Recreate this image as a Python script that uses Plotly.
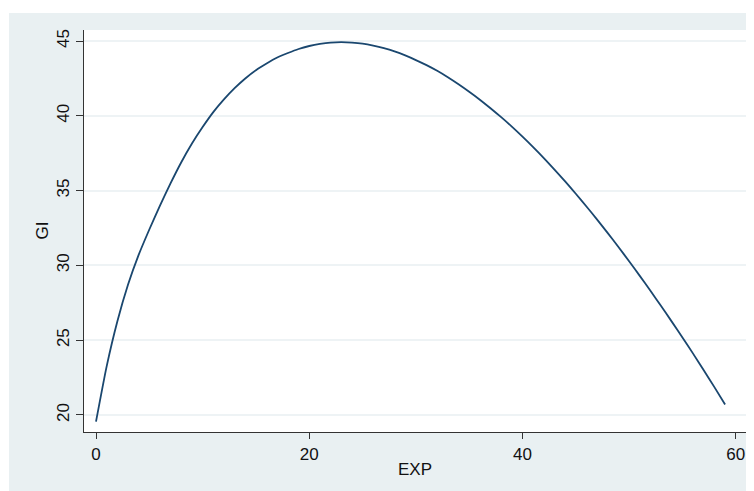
import plotly.graph_objects as go

exp_years = list(range(0, 60))
gi_values = [
    19.55, 23.25, 26.25, 28.7, 30.7, 32.4, 34.0, 35.5, 36.9, 38.15,
    39.25, 40.25, 41.1, 41.85, 42.5, 43.05, 43.5, 43.9, 44.2, 44.47,
    44.67, 44.81, 44.9, 44.93, 44.9, 44.83, 44.7, 44.53, 44.31, 44.04,
    43.73, 43.39, 43.01, 42.58, 42.11, 41.61, 41.08, 40.51, 39.91, 39.28,
    38.61, 37.91, 37.18, 36.41, 35.62, 34.79, 33.94, 33.06, 32.16, 31.23,
    30.28, 29.3, 28.3, 27.28, 26.24, 25.18, 24.1, 22.99, 21.86, 20.7,
]
x_ticks = [0, 20, 40, 60]
y_ticks = [20, 25, 30, 35, 40, 45]
x_title = "EXP"
y_title = "GI"

BG = "#e9f0f2"
LINE = "#1a476f"
GRID = "#eef3f5"
AXIS = "#333333"
FONT = "Liberation Sans, Arial, sans-serif"

fig = go.Figure()
fig.add_trace(go.Scatter(x=exp_years, y=gi_values, mode="lines",
                         line=dict(color=LINE, width=1.8, shape="spline", smoothing=0.6),
                         showlegend=False, hoverinfo="skip"))

# page body keeps its default 8px margin, so the figure is 746x483 placed at (8, 8)
W, H = 746, 483
L, R, T, B = 76, 6, 22, 59
pw, ph = W - L - R, H - T - B

# white strips outside the graph region (top and left)
fig.add_shape(type="rect", xref="paper", yref="paper", layer="below",
              x0=-L / pw, x1=(W - L) / pw, y0=1 + (T - 5) / ph, y1=1 + T / ph,
              fillcolor="white", line=dict(width=0))
fig.add_shape(type="rect", xref="paper", yref="paper", layer="below",
              x0=-L / pw, x1=-(L - 1) / pw, y0=-B / ph, y1=1 + T / ph,
              fillcolor="white", line=dict(width=0))

fig.add_annotation(text=y_title, xref="paper", yref="paper", x=(33.5 - L) / pw, y=0.5,
                   xanchor="center", yanchor="middle", textangle=-90, showarrow=False,
                   font=dict(size=17))
fig.add_annotation(text=x_title, xref="paper", yref="paper", x=(407 - L) / pw,
                   y=-(461 - (H - B)) / ph, xanchor="center", yanchor="middle",
                   showarrow=False, font=dict(size=17))

fig.update_layout(
    width=W, height=H,
    margin=dict(l=L, r=R, t=T, b=B, pad=0, autoexpand=False),
    paper_bgcolor=BG, plot_bgcolor="white",
    font=dict(family=FONT, size=17, color="#111111"),
    xaxis=dict(range=[-1.125, 61.15], tickvals=x_ticks, showgrid=False, zeroline=False,
               automargin=False,
               showline=True, linecolor=AXIS, linewidth=1.2,
               ticks="outside", ticklen=6, tickcolor=AXIS, tickwidth=1.2),
    yaxis=dict(range=[18.86, 45.74], tickvals=y_ticks, showgrid=True, gridcolor=GRID, gridwidth=1.5,
               automargin=False,
               zeroline=False, showline=True, linecolor=AXIS, linewidth=1.2,
               ticks="outside", ticklen=7, tickcolor=AXIS, tickwidth=1.2, tickangle=-90),
)

fig.write_html("out.html")
